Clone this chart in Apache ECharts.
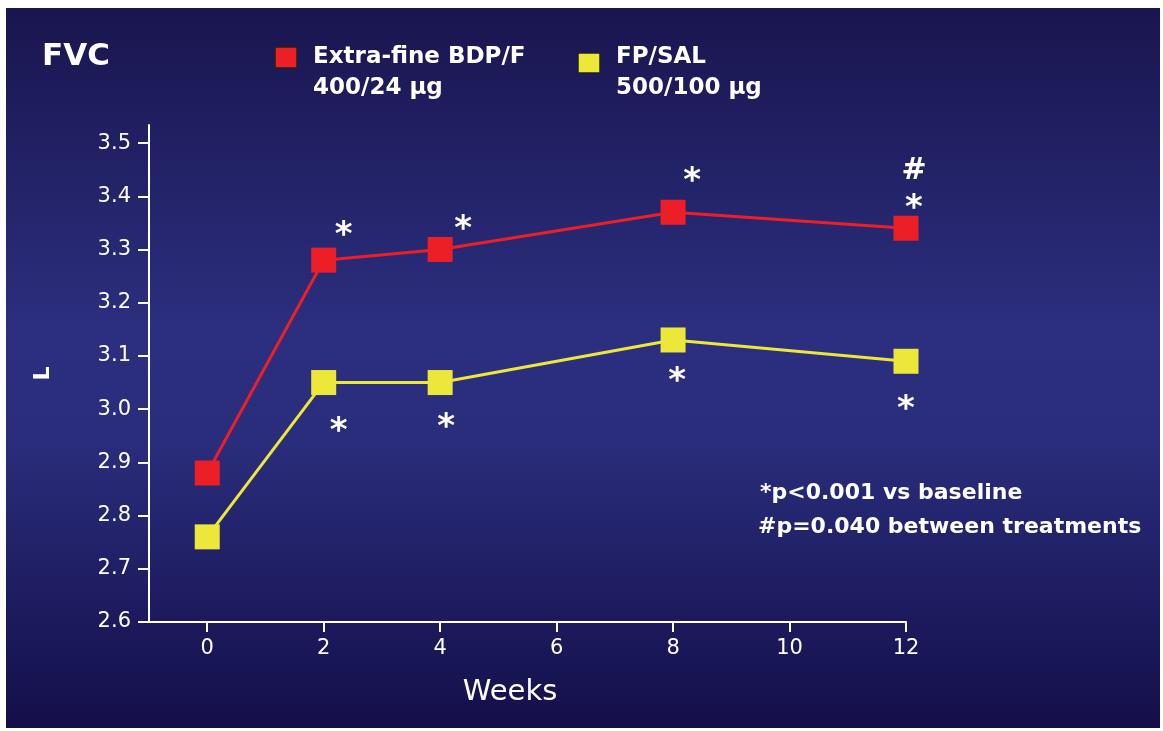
<!DOCTYPE html>
<html>
<head>
<meta charset="utf-8">
<script src="https://cdn.jsdelivr.net/npm/echarts@6/dist/echarts.min.js"></script>
<style>
  html, body { margin: 0; padding: 0; background: #fff; }
  #chart { width: 1163px; height: 731px; }
</style>
</head>
<body>
<div id="chart"></div>
<script>
  const weeks = [0, 2, 4, 8, 12];
  const bdpValues = [2.88, 3.28, 3.30, 3.37, 3.34];
  const fpValues = [2.76, 3.05, 3.05, 3.13, 3.09];
  const bdpMarks = ['', '*', '*', '*', '#\n*'];
  const fpMarks = ['', '*', '*', '*', '*'];
  const xTicks = [0, 2, 4, 6, 8, 10, 12];
  const yTicks = [2.6, 2.7, 2.8, 2.9, 3.0, 3.1, 3.2, 3.3, 3.4, 3.5];
  const seriesNames = ['Extra-fine BDP/F', 'FP/SAL'];
  const doseNames = ['400/24 \u03bcg', '500/100 \u03bcg'];
  const notes = ['*p<0.001 vs baseline', '#p=0.040 between treatments'];

  const FONT = 'DejaVu Sans';
  const RED = '#ec1f26';
  const YELLOW = '#ede73a';

  // where the asterisks sit relative to their marker
  const bdpOffsets = [[0, 0], [20, -24], [23, -19], [19, -30], [8, -37]];
  const fpOffsets = [[0, 0], [15, 50], [6, 46], [4, 42], [0, 49]];

  function buildData(values, marks, offsets) {
    return values.map(function (v, i) {
      const hasHash = marks[i].indexOf('#') >= 0;
      return {
        value: [weeks[i], v],
        label: {
          show: marks[i] !== '',
          position: 'inside',
          offset: offsets[i],
          formatter: hasHash ? '{h|#}\n{s|*}' : '{s|*}'
        }
      };
    });
  }

  const markRich = {
    h: { color: '#fff', fontFamily: FONT, fontWeight: 'bold', fontSize: 30, lineHeight: 36 },
    s: { color: '#fff', fontFamily: FONT, fontWeight: 'bold', fontSize: 34, lineHeight: 40 }
  };

  const chart = echarts.init(document.getElementById('chart'));

  chart.setOption({
    backgroundColor: '#fff',
    animation: false,
    grid: { left: 149, top: 125, right: 257, bottom: 109 },
    xAxis: {
      type: 'value',
      min: -1,
      max: 12,
      name: 'Weeks',
      nameLocation: 'middle',
      nameGap: 56,
      nameTextStyle: { color: '#fff', fontFamily: FONT, fontSize: 29, padding: [0, 35, 0, 0] },
      axisLine: { show: true, onZero: false, lineStyle: { color: '#fff', width: 2 } },
      axisTick: { show: true, length: 10, customValues: xTicks, lineStyle: { color: '#fff', width: 2 } },
      axisLabel: { customValues: xTicks, color: '#fff', fontFamily: FONT, fontSize: 21, margin: 16 },
      splitLine: { show: false }
    },
    yAxis: {
      type: 'value',
      min: 2.6,
      max: 3.534,
      name: 'L',
      nameLocation: 'middle',
      nameGap: 95,
      nameTextStyle: { color: '#fff', fontFamily: FONT, fontWeight: 'bold', fontSize: 22 },
      axisLine: { show: true, onZero: false, lineStyle: { color: '#fff', width: 2 } },
      axisTick: { show: true, length: 11, customValues: yTicks, lineStyle: { color: '#fff', width: 2 } },
      axisLabel: {
        customValues: yTicks, color: '#fff', fontFamily: FONT, fontSize: 21, margin: 18,
        formatter: function (v) { return v.toFixed(1); }
      },
      splitLine: { show: false }
    },
    graphic: [
      {
        type: 'rect', z: -10, silent: true,
        shape: { x: 6, y: 8, width: 1154, height: 720 },
        style: {
          fill: new echarts.graphic.LinearGradient(0, 0, 0, 1, [
            { offset: 0, color: '#19154f' },
            { offset: 0.45, color: '#2c2f7f' },
            { offset: 0.6, color: '#2a2d7c' },
            { offset: 1, color: '#140f4a' }
          ])
        }
      },
      {
        type: 'text', left: 42, top: 41,
        style: { text: 'FVC', fill: '#fff', font: 'bold 31px "DejaVu Sans"' }
      },
      {
        type: 'rect', shape: { x: 275, y: 47, width: 22, height: 21 },
        style: { fill: RED, stroke: '#222', lineWidth: 1.5 }
      },
      {
        type: 'text', left: 313, top: 42,
        style: { text: seriesNames[0] + '\n' + doseNames[0], fill: '#fff', font: 'bold 23px "DejaVu Sans"', lineHeight: 31 }
      },
      {
        type: 'rect', shape: { x: 578, y: 53, width: 22, height: 20 },
        style: { fill: YELLOW, stroke: '#222', lineWidth: 1.5 }
      },
      {
        type: 'text', left: 616, top: 42,
        style: { text: seriesNames[1] + '\n' + doseNames[1], fill: '#fff', font: 'bold 23px "DejaVu Sans"', lineHeight: 31 }
      },
      {
        type: 'text', left: 760, top: 482,
        style: { text: notes[0], fill: '#fff', font: 'bold 22px "DejaVu Sans"' }
      },
      {
        type: 'text', left: 758, top: 516,
        style: { text: notes[1], fill: '#fff', font: 'bold 22px "DejaVu Sans"' }
      }
    ],
    series: [
      {
        name: seriesNames[0],
        type: 'line',
        data: buildData(bdpValues, bdpMarks, bdpOffsets),
        symbol: 'rect',
        symbolSize: 25,
        itemStyle: { color: RED },
        lineStyle: { color: RED, width: 3 },
        label: { rich: markRich },
        z: 3
      },
      {
        name: seriesNames[1],
        type: 'line',
        data: buildData(fpValues, fpMarks, fpOffsets),
        symbol: 'rect',
        symbolSize: 25,
        itemStyle: { color: YELLOW },
        lineStyle: { color: YELLOW, width: 3 },
        label: { rich: markRich },
        z: 2
      }
    ]
  });
</script>
</body>
</html>
